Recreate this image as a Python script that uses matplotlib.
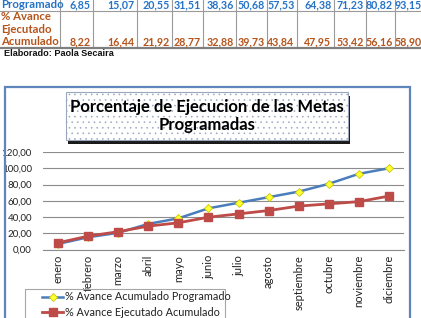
import matplotlib
matplotlib.use('Agg')
import matplotlib.pyplot as plt
from matplotlib.patches import Rectangle
from matplotlib.lines import Line2D

months = ['enero', 'febrero', 'marzo', 'abril', 'mayo', 'junio', 'julio',
          'agosto', 'septiembre', 'octubre', 'noviembre', 'diciembre']
programado = [6.85, 15.07, 20.55, 31.51, 38.36, 50.68, 57.53, 64.38, 71.23, 80.82, 93.15, 100.00]
ejecutado = [8.22, 16.44, 21.92, 28.77, 32.88, 39.73, 43.84, 47.95, 53.42, 56.16, 58.90, 65.75]
yticks = [0, 20, 40, 60, 80, 100, 120]
title = 'Porcentaje de Ejecucion de las Metas\nProgramadas'
legend_labels = ['% Avance Acumulado Programado', '% Avance Ejecutado Acumulado']
source_text = 'Elaborado: Paola Secaira'

W, H = 421, 318
fig = plt.figure(figsize=(W / 100, H / 100), dpi=100)
fig.patch.set_facecolor('white')


def fx(x):
    return x / W


def fy(y):
    return 1 - y / H


def fmt(v):
    return f'{v:.2f}'.replace('.', ',')


FONT = 'Lato'
BLUE_T = '#2473C8'
BROWN_T = '#B5541B'
LS = 8.2   # table row labels
NS = 7.7   # table numbers

# ---------------- table fragment ----------------
col_lines = [60, 93, 137, 172, 203, 236, 267, 297, 334, 366, 395]
col_right = col_lines[1:] + [424]
for x in col_lines:
    fig.add_artist(Line2D([fx(x), fx(x)], [fy(0), fy(47)], color='#9a9a9a', lw=0.8))
fig.add_artist(Line2D([0, 1], [fy(11), fy(11)], color='#9a9a9a', lw=0.8))
fig.add_artist(Line2D([0, 1], [fy(47.5), fy(47.5)], color='#7f7f7f', lw=1.6))

fig.text(fx(1), fy(4.5), 'Programado', color=BLUE_T, fontsize=LS, fontweight='bold',
         family=FONT, ha='left', va='center')
for i in range(11):
    fig.text(fx(col_right[i] - 2.5), fy(4.5), fmt(programado[i]), color=BLUE_T, fontsize=NS,
             fontweight='bold', family=FONT, ha='right', va='center')
for j, s in enumerate(['% Avance', 'Ejecutado', 'Acumulado']):
    fig.text(fx(1), fy(17 + 12.3 * j), s, color=BROWN_T, fontsize=LS, fontweight='bold',
             family=FONT, ha='left', va='center')
for i in range(11):
    fig.text(fx(col_right[i] - 2.5), fy(41.6), fmt(ejecutado[i]), color=BROWN_T, fontsize=NS,
             fontweight='bold', family=FONT, ha='right', va='center')
fig.text(fx(4), fy(53.5), source_text, color='#111111', fontsize=6.6, fontweight='bold',
         family='Liberation Sans', ha='left', va='center')

# ---------------- chart border ----------------
fig.add_artist(Rectangle((fx(4.5), fy(330)), fx(405), fy(86.5) - fy(330),
                         fill=False, edgecolor='#5E86BC', lw=1.6))

# ---------------- axes ----------------
ax = fig.add_axes([fx(43), fy(249.5), fx(404) - fx(43), fy(152) - fy(249.5)])
x = list(range(len(months)))
ax.plot(x, programado, color='#4A7EBB', lw=1.8, marker='D', markersize=4.2,
        markerfacecolor='#FFFF33', markeredgecolor='#C8C800', markeredgewidth=0.6, zorder=3)
ax.plot(x, ejecutado, color='#BE4B48', lw=2.0, marker='s', markersize=6.4,
        markerfacecolor='#BE4B48', markeredgecolor='#BE4B48', zorder=4)
ax.set_xlim(-0.5, len(months) - 0.5)
ax.set_ylim(0, 120)
ax.set_yticks(yticks)
ax.set_yticklabels([fmt(v) for v in yticks], fontsize=7.0, family=FONT, color='#222222')
ax.set_xticks(x)
ax.set_xticklabels(months, rotation=90, fontsize=8.0, family=FONT, color='#222222', va='top')
ax.tick_params(axis='both', length=0)
ax.tick_params(axis='y', pad=8)
ax.tick_params(axis='x', pad=4)
ax.grid(axis='y', color='#8c8c8c', lw=0.8)
ax.set_axisbelow(True)
for s in ['left', 'right', 'top']:
    ax.spines[s].set_visible(False)
ax.spines['bottom'].set_color('#8c8c8c')
ax.spines['bottom'].set_linewidth(0.8)
ax.set_facecolor('none')

# ---------------- title box ----------------
tx0, ty0, tx1, ty1 = 66, 92, 348, 140
fig.add_artist(Rectangle((fx(tx0 + 2), fy(ty1 + 4)), fx(tx1 - tx0), fy(ty0 + 4) - fy(ty1 + 4),
                         facecolor='#1a1a1a', edgecolor='none', zorder=1))
fig.add_artist(Rectangle((fx(tx0), fy(ty1)), fx(tx1 - tx0), fy(ty0) - fy(ty1),
                         facecolor='white', edgecolor='none', zorder=2))
plt.rcParams['hatch.color'] = '#b4bdcf'
plt.rcParams['hatch.linewidth'] = 0.4
fig.add_artist(Rectangle((fx(tx0), fy(ty1)), fx(tx1 - tx0), fy(ty0) - fy(ty1),
                         facecolor='none', edgecolor='#9aa6bd', hatch='...', lw=0.8, zorder=3))
fig.text(fx((tx0 + tx1) / 2), fy(116), title, ha='center', va='center', fontsize=12.0,
         fontweight='bold', family=FONT, color='black', linespacing=1.2, zorder=4)

# ---------------- legend ----------------
fig.add_artist(Rectangle((fx(25), fy(330)), fx(200), fy(289) - fy(330),
                         fill=False, edgecolor='#a6a6a6', lw=0.8))
fig.add_artist(Line2D([fx(42), fx(63)], [fy(297), fy(297)], color='#4A7EBB', lw=1.8, zorder=5))
fig.add_artist(Line2D([fx(52.5)], [fy(297)], color='#4A7EBB', marker='D', markersize=4.2,
                      markerfacecolor='#FFFF33', markeredgecolor='#C8C800', markeredgewidth=0.6,
                      linestyle='none', zorder=6))
fig.add_artist(Line2D([fx(42), fx(63)], [fy(312), fy(312)], color='#BE4B48', lw=2.0, zorder=5))
fig.add_artist(Line2D([fx(52.5)], [fy(312)], color='#BE4B48', marker='s', markersize=6.4,
                      linestyle='none', zorder=6))
fig.text(fx(65), fy(297), legend_labels[0], fontsize=7.8, family=FONT, color='#222222',
         ha='left', va='center')
fig.text(fx(65), fy(312), legend_labels[1], fontsize=7.8, family=FONT, color='#222222',
         ha='left', va='center')

fig.savefig('out.png', dpi=100, facecolor='white')
